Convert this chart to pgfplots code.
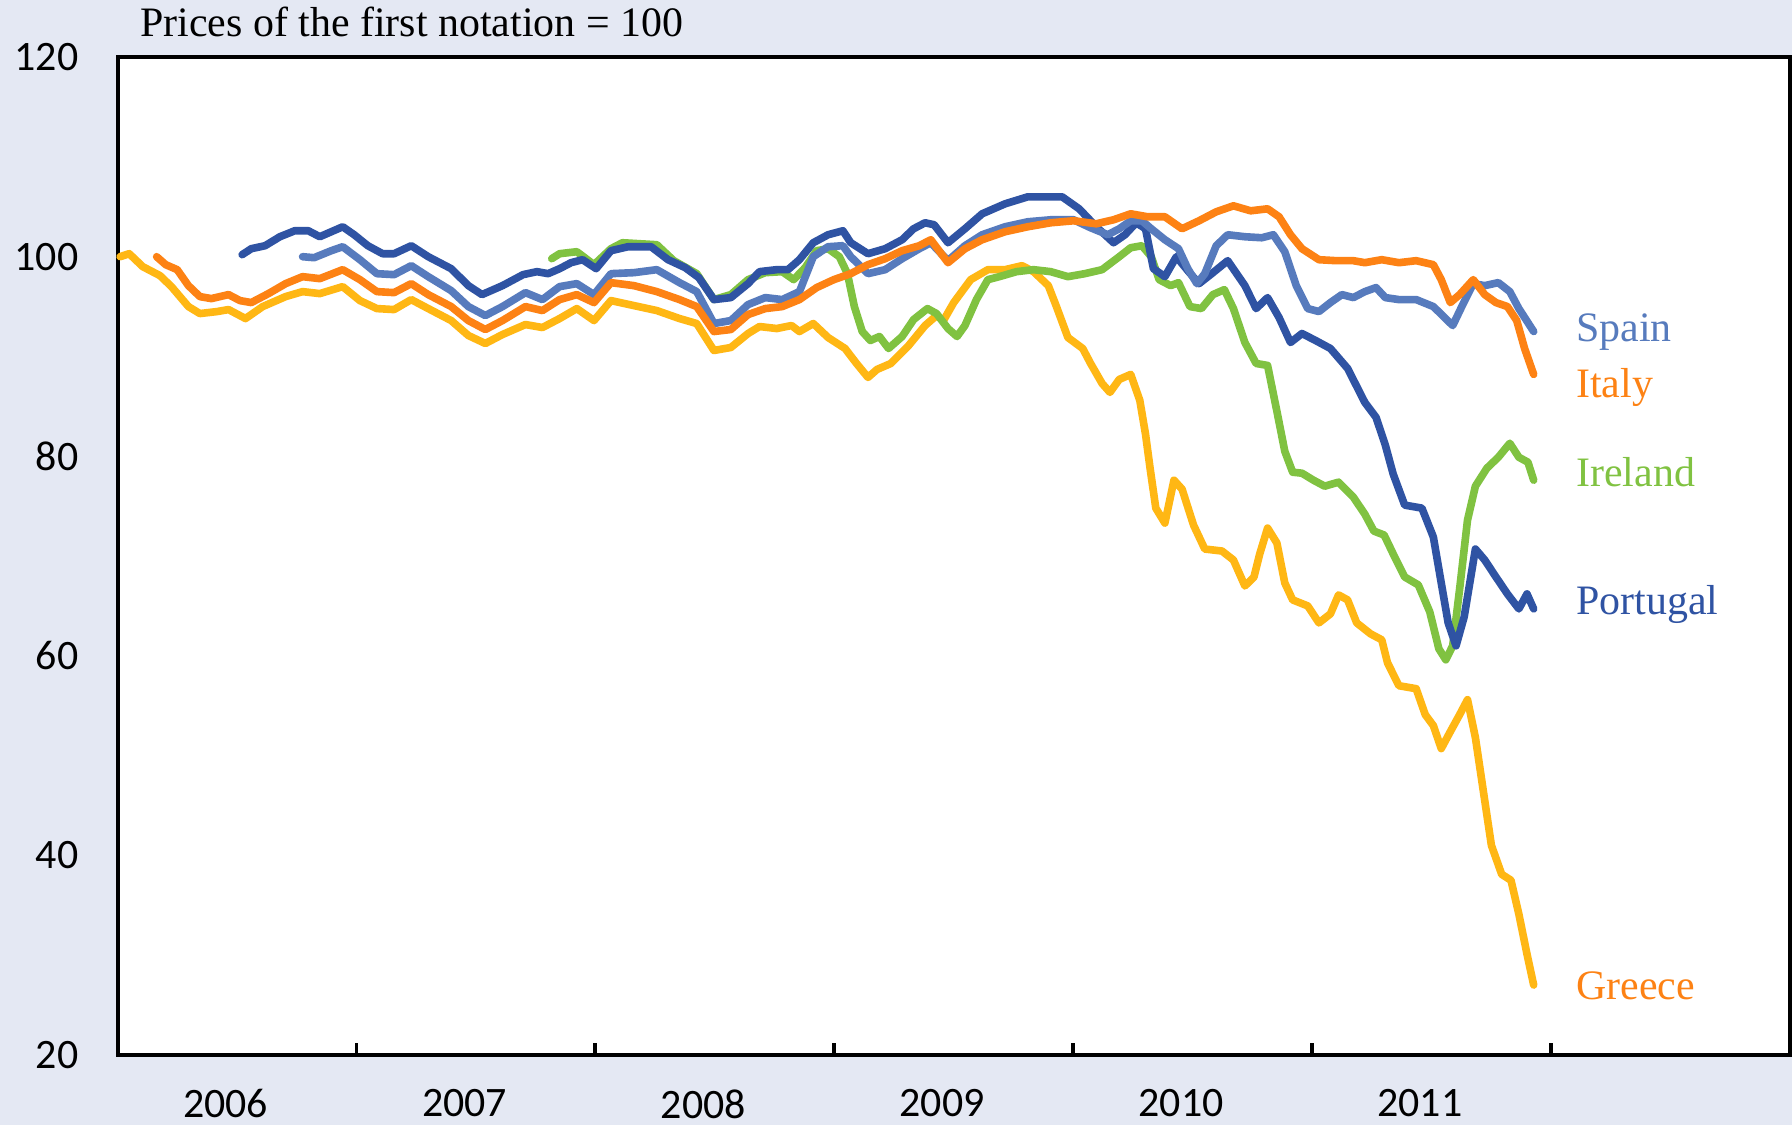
\documentclass[border=0pt]{standalone}
\usepackage{pgfplots}
\pgfplotsset{compat=1.18}
\usepackage{fontspec}
\setmainfont{Liberation Serif}
\newfontfamily\tickfont{Carlito}
\definecolor{bgc}{RGB}{228,232,243}
\definecolor{cspain}{RGB}{87,123,189}
\definecolor{cport}{RGB}{47,83,163}
\definecolor{citaly}{RGB}{253,130,20}
\definecolor{cgreece}{RGB}{255,183,20}
\definecolor{cireland}{RGB}{128,194,65}
\begin{document}
\begin{tikzpicture}
\path[use as bounding box, fill=bgc] (-30.9pt,-18.3pt) rectangle (439.5pt,276.9pt);
\begin{axis}[
  scale only axis, width=438.9pt, height=261.9pt,
  at={(0,0)}, anchor=south west,
  axis background/.style={fill=white},
  xmin=2006, xmax=2013, ymin=20, ymax=120,
  xtick={2006,...,2012}, x tick label as interval,
  ytick={20,40,...,120},
  xtick pos=bottom, tick align=inside,
  major tick length=3pt,
  ytick style={draw=none},
  xtick style={black, line width=1pt},
  axis line style={black, line width=1pt},
  /pgf/number format/1000 sep={},
  /pgf/number format/assume math mode=true,
  ticklabel style={font=\tickfont\fontsize{11}{13}\selectfont},
  yticklabel style={xshift=-6.8pt},
  xticklabel style={yshift=-5.6pt, xshift=-3pt},
  clip=false,
  every axis plot/.append style={line width=2pt, line join=round, line cap=round, no marks},
]
% Greece
\addplot[cgreece] coordinates {
(2006.010,100.0)(2006.048,100.3)(2006.105,99.0)(2006.177,98.1)(2006.225,97.0)(2006.296,95.0)(2006.344,94.3)(2006.416,94.5)(2006.464,94.7)(2006.535,93.8)(2006.607,95.0)(2006.703,96.0)(2006.774,96.5)(2006.846,96.3)(2006.942,97.0)(2007.014,95.6)(2007.085,94.8)(2007.157,94.7)(2007.229,95.7)(2007.300,94.8)(2007.396,93.6)(2007.468,92.1)(2007.539,91.3)(2007.611,92.2)(2007.707,93.2)(2007.778,92.9)(2007.850,93.8)(2007.922,94.8)(2007.994,93.6)(2008.065,95.6)(2008.161,95.1)(2008.257,94.6)(2008.352,93.8)(2008.424,93.3)(2008.496,90.6)(2008.567,90.9)(2008.639,92.3)(2008.687,93.0)(2008.759,92.8)(2008.821,93.1)(2008.854,92.5)(2008.912,93.3)(2008.974,91.9)(2009.045,90.8)(2009.093,89.3)(2009.141,87.9)(2009.179,88.7)(2009.237,89.3)(2009.308,91.0)(2009.380,93.1)(2009.428,94.1)(2009.457,93.6)(2009.500,95.4)(2009.571,97.7)(2009.643,98.7)(2009.715,98.7)(2009.786,99.1)(2009.834,98.5)(2009.896,97.1)(2009.930,95.0)(2009.978,91.9)(2010.040,90.8)(2010.073,89.3)(2010.121,87.3)(2010.154,86.4)(2010.193,87.7)(2010.241,88.2)(2010.279,85.6)(2010.303,82.2)(2010.322,78.8)(2010.346,74.8)(2010.384,73.3)(2010.422,77.6)(2010.456,76.7)(2010.504,73.1)(2010.551,70.7)(2010.623,70.5)(2010.671,69.6)(2010.719,67.0)(2010.757,67.9)(2010.781,70.2)(2010.814,72.8)(2010.853,71.3)(2010.886,67.3)(2010.919,65.6)(2010.982,65.0)(2011.029,63.3)(2011.077,64.2)(2011.111,66.1)(2011.149,65.6)(2011.187,63.3)(2011.245,62.2)(2011.292,61.6)(2011.316,59.3)(2011.364,57.0)(2011.412,56.8)(2011.436,56.7)(2011.474,54.1)(2011.508,53.0)(2011.541,50.7)(2011.579,52.4)(2011.618,54.1)(2011.651,55.6)(2011.684,51.8)(2011.723,45.5)(2011.751,41.0)(2011.794,38.1)(2011.833,37.5)(2011.866,34.1)(2011.900,30.1)(2011.928,27.0)
};
% Ireland
\addplot[cireland] coordinates {
(2007.817,99.8)(2007.850,100.3)(2007.922,100.5)(2007.994,99.2)(2008.065,100.8)(2008.113,101.4)(2008.185,101.3)(2008.257,101.2)(2008.328,99.6)(2008.424,98.3)(2008.496,95.7)(2008.567,96.2)(2008.639,97.7)(2008.711,98.4)(2008.782,98.5)(2008.830,97.7)(2008.878,98.9)(2008.926,100.6)(2008.974,100.8)(2009.021,100.0)(2009.055,98.3)(2009.084,95.0)(2009.117,92.5)(2009.151,91.6)(2009.189,92.0)(2009.227,90.8)(2009.284,92.0)(2009.332,93.7)(2009.390,94.8)(2009.428,94.3)(2009.476,92.8)(2009.514,92.0)(2009.547,93.1)(2009.595,95.7)(2009.643,97.7)(2009.691,98.0)(2009.763,98.5)(2009.834,98.7)(2009.906,98.5)(2009.978,98.0)(2010.049,98.3)(2010.121,98.7)(2010.193,100.0)(2010.241,100.9)(2010.288,101.1)(2010.327,100.0)(2010.360,97.7)(2010.408,97.1)(2010.441,97.4)(2010.489,95.0)(2010.537,94.8)(2010.585,96.2)(2010.633,96.7)(2010.671,94.8)(2010.719,91.4)(2010.766,89.3)(2010.814,89.1)(2010.853,84.5)(2010.886,80.5)(2010.919,78.4)(2010.958,78.3)(2011.006,77.6)(2011.053,77.0)(2011.111,77.4)(2011.173,75.9)(2011.221,74.2)(2011.259,72.5)(2011.302,72.1)(2011.340,70.2)(2011.388,67.9)(2011.445,67.1)(2011.493,64.4)(2011.531,60.7)(2011.560,59.6)(2011.589,61.0)(2011.618,66.7)(2011.651,73.6)(2011.684,77.0)(2011.732,78.8)(2011.780,79.9)(2011.828,81.3)(2011.866,79.9)(2011.904,79.4)(2011.928,77.6)
};
% Portugal
\addplot[cport] coordinates {
(2006.521,100.2)(2006.559,100.8)(2006.617,101.1)(2006.679,102.0)(2006.741,102.6)(2006.798,102.6)(2006.846,102.0)(2006.894,102.5)(2006.942,103.0)(2006.990,102.2)(2007.047,101.1)(2007.109,100.3)(2007.157,100.3)(2007.229,101.1)(2007.300,100.0)(2007.396,98.8)(2007.468,97.1)(2007.525,96.2)(2007.611,97.1)(2007.697,98.2)(2007.755,98.5)(2007.802,98.3)(2007.850,98.8)(2007.898,99.4)(2007.946,99.7)(2008.003,98.8)(2008.065,100.6)(2008.137,101.0)(2008.233,101.0)(2008.304,99.7)(2008.376,98.9)(2008.433,97.9)(2008.496,95.7)(2008.567,95.9)(2008.639,97.3)(2008.687,98.5)(2008.759,98.7)(2008.806,98.7)(2008.854,99.7)(2008.912,101.4)(2008.974,102.2)(2009.036,102.6)(2009.069,101.4)(2009.141,100.3)(2009.213,100.8)(2009.284,101.7)(2009.332,102.8)(2009.380,103.4)(2009.418,103.2)(2009.476,101.4)(2009.547,102.8)(2009.619,104.3)(2009.715,105.3)(2009.810,106.0)(2009.882,106.0)(2009.954,106.0)(2010.025,104.8)(2010.097,103.0)(2010.169,101.4)(2010.217,102.2)(2010.264,103.4)(2010.303,102.8)(2010.336,98.8)(2010.384,98.0)(2010.432,100.0)(2010.480,98.6)(2010.527,97.3)(2010.575,98.2)(2010.647,99.6)(2010.719,97.1)(2010.766,94.8)(2010.814,95.9)(2010.862,93.9)(2010.910,91.4)(2010.958,92.3)(2011.015,91.6)(2011.077,90.8)(2011.149,88.8)(2011.221,85.4)(2011.268,83.9)(2011.307,81.1)(2011.340,78.2)(2011.388,75.1)(2011.460,74.8)(2011.508,71.9)(2011.541,67.3)(2011.570,63.3)(2011.603,61.0)(2011.637,63.9)(2011.684,70.7)(2011.723,69.6)(2011.770,67.9)(2011.818,66.2)(2011.866,64.7)(2011.900,66.2)(2011.928,64.7)
};
% Spain
\addplot[cspain] coordinates {
(2006.774,100.0)(2006.822,99.9)(2006.894,100.6)(2006.942,101.0)(2007.014,99.7)(2007.085,98.3)(2007.157,98.2)(2007.229,99.1)(2007.300,98.0)(2007.396,96.6)(2007.468,95.0)(2007.539,94.1)(2007.611,95.0)(2007.707,96.4)(2007.778,95.7)(2007.850,97.0)(2007.922,97.3)(2007.994,96.2)(2008.065,98.3)(2008.161,98.4)(2008.257,98.7)(2008.352,97.4)(2008.424,96.5)(2008.496,93.3)(2008.567,93.6)(2008.639,95.2)(2008.711,95.9)(2008.782,95.7)(2008.854,96.5)(2008.912,100.0)(2008.974,101.0)(2009.036,101.1)(2009.069,100.0)(2009.141,98.3)(2009.213,98.7)(2009.284,99.8)(2009.356,100.8)(2009.404,101.4)(2009.476,99.6)(2009.547,101.1)(2009.619,102.2)(2009.715,103.0)(2009.810,103.5)(2009.906,103.7)(2010.002,103.7)(2010.073,102.9)(2010.145,102.2)(2010.193,102.8)(2010.241,103.6)(2010.288,103.6)(2010.327,102.8)(2010.384,101.7)(2010.441,100.8)(2010.480,98.8)(2010.518,97.3)(2010.551,98.3)(2010.599,101.1)(2010.647,102.2)(2010.719,102.0)(2010.790,101.9)(2010.838,102.2)(2010.886,100.5)(2010.934,97.1)(2010.982,94.8)(2011.029,94.5)(2011.077,95.4)(2011.125,96.2)(2011.173,95.9)(2011.221,96.5)(2011.268,96.9)(2011.307,95.9)(2011.364,95.7)(2011.436,95.7)(2011.508,95.0)(2011.555,93.9)(2011.589,93.1)(2011.627,95.0)(2011.675,97.3)(2011.723,97.1)(2011.780,97.4)(2011.828,96.5)(2011.866,94.8)(2011.928,92.5)
};
% Italy
\addplot[citaly] coordinates {
(2006.163,100.0)(2006.201,99.2)(2006.249,98.7)(2006.296,97.1)(2006.344,96.0)(2006.392,95.8)(2006.464,96.2)(2006.512,95.6)(2006.559,95.4)(2006.631,96.3)(2006.703,97.3)(2006.774,98.0)(2006.846,97.8)(2006.942,98.7)(2007.014,97.7)(2007.085,96.5)(2007.157,96.4)(2007.229,97.3)(2007.300,96.2)(2007.396,95.0)(2007.468,93.6)(2007.539,92.7)(2007.611,93.6)(2007.707,95.0)(2007.778,94.6)(2007.850,95.7)(2007.922,96.2)(2007.994,95.4)(2008.065,97.4)(2008.161,97.1)(2008.257,96.5)(2008.352,95.7)(2008.424,95.0)(2008.496,92.5)(2008.567,92.7)(2008.639,94.2)(2008.711,94.8)(2008.782,95.0)(2008.854,95.7)(2008.926,96.9)(2008.998,97.7)(2009.069,98.3)(2009.141,99.2)(2009.213,99.8)(2009.284,100.6)(2009.356,101.1)(2009.404,101.7)(2009.476,99.4)(2009.547,100.8)(2009.619,101.7)(2009.715,102.5)(2009.810,103.0)(2009.906,103.4)(2010.002,103.6)(2010.097,103.3)(2010.169,103.7)(2010.241,104.3)(2010.312,104.0)(2010.384,104.0)(2010.456,102.8)(2010.527,103.6)(2010.599,104.5)(2010.671,105.1)(2010.743,104.6)(2010.814,104.8)(2010.862,104.0)(2010.910,102.2)(2010.958,100.8)(2011.029,99.7)(2011.101,99.6)(2011.173,99.6)(2011.221,99.4)(2011.292,99.7)(2011.364,99.4)(2011.436,99.6)(2011.508,99.2)(2011.541,97.7)(2011.579,95.4)(2011.618,96.2)(2011.675,97.7)(2011.723,96.2)(2011.770,95.4)(2011.818,95.0)(2011.857,93.6)(2011.890,90.8)(2011.928,88.2)
};
\node[anchor=base west, font=\fontsize{11}{13}\selectfont, xshift=2.4pt, yshift=5.4pt] at (rel axis cs:0,1) {Prices of the first notation = 100};
\node[anchor=base west, font=\fontsize{11}{13}\selectfont, text=cspain] at (axis cs:2012.05,91.5) {Spain};
\node[anchor=base west, font=\fontsize{11}{13}\selectfont, text=citaly] at (axis cs:2012.05,85.9) {Italy};
\node[anchor=base west, font=\fontsize{11}{13}\selectfont, text=cireland] at (axis cs:2012.05,77.0) {Ireland};
\node[anchor=base west, font=\fontsize{11}{13}\selectfont, text=cport] at (axis cs:2012.05,64.1) {Portugal};
\node[anchor=base west, font=\fontsize{11}{13}\selectfont, text=citaly] at (axis cs:2012.05,25.6) {Greece};
\end{axis}
\end{tikzpicture}
\end{document}
